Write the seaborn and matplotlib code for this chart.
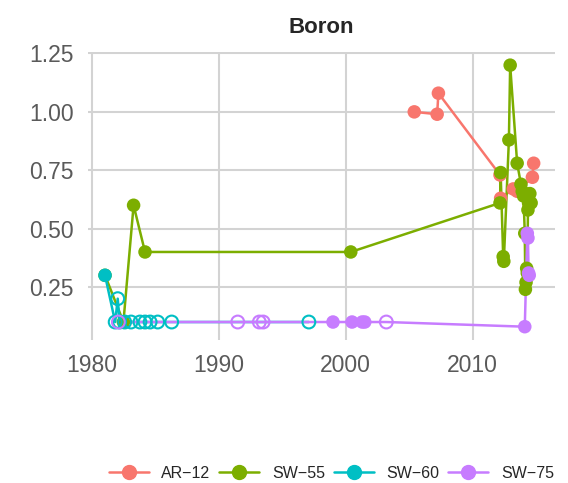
import pandas as pd
import numpy as np
import matplotlib
matplotlib.use("Agg")
import matplotlib.pyplot as plt
from matplotlib.lines import Line2D
import seaborn as sns

# boron readings per site: year, value, detected (False = drawn as open circle)
ar12_year = [2005.4, 2007.2, 2007.3, 2012.15, 2012.2, 2013.2, 2013.5, 2014.7, 2014.8]
ar12_val = [1.00, 0.99, 1.08, 0.73, 0.63, 0.67, 0.66, 0.72, 0.78]
ar12_det = [True] * 9

sw55_year = [1981.05, 1982.5, 1983.3, 1984.2, 2000.4, 2012.15, 2012.2, 2012.4, 2012.45,
             2012.85, 2012.95, 2013.5, 2013.8, 2013.9, 2014.0, 2014.1, 2014.15, 2014.2,
             2014.25, 2014.3, 2014.35, 2014.4, 2014.5, 2014.6]
sw55_val = [0.30, 0.10, 0.60, 0.40, 0.40, 0.61, 0.74, 0.38, 0.36,
            0.88, 1.20, 0.78, 0.69, 0.66, 0.64, 0.48, 0.24, 0.27,
            0.33, 0.31, 0.58, 0.61, 0.65, 0.61]
sw55_det = [True] * 24

sw60_year = [1981.05, 1981.85, 1982.05, 1982.2, 1982.6, 1983.1, 1983.8, 1984.2, 1984.6,
             1985.2, 1986.3, 1997.1]
sw60_val = [0.30, 0.10, 0.20, 0.10, 0.10, 0.10, 0.10, 0.10, 0.10, 0.10, 0.10, 0.10]
sw60_det = [True] + [False] * 11

sw75_year = [1982.1, 1991.5, 1993.2, 1993.5, 1999.0, 2000.5, 2001.3, 2001.5, 2003.2,
             2014.1, 2014.3, 2014.35, 2014.4, 2014.45]
sw75_val = [0.10, 0.10, 0.10, 0.10, 0.10, 0.10, 0.10, 0.10, 0.10,
            0.08, 0.48, 0.46, 0.31, 0.30]
sw75_det = [False, False, False, False, True, True, True, True, False,
            True, True, True, True, True]

sites = ["AR−12", "SW−55", "SW−60", "SW−75"]
colors = ["#F8766D", "#7CAE00", "#00BFC4", "#C77CFF"]

frames = []
for name, yr, v, d in zip(sites,
                          [ar12_year, sw55_year, sw60_year, sw75_year],
                          [ar12_val, sw55_val, sw60_val, sw75_val],
                          [ar12_det, sw55_det, sw60_det, sw75_det]):
    frames.append(pd.DataFrame({"year": yr, "value": v, "detected": d, "site": name}))
df = pd.concat(frames, ignore_index=True)
pal = dict(zip(sites, colors))

sns.set_style("white")
plt.rcParams["font.family"] = ["Liberation Sans", "DejaVu Sans"]

fig = plt.figure(figsize=(5.68, 4.83), dpi=100)
ax = fig.add_axes([88 / 568, 1 - 340 / 483, (555 - 88) / 568, (340 - 52) / 483])

sns.lineplot(data=df, x="year", y="value", hue="site", palette=pal, estimator=None,
             sort=True, linewidth=1.8, legend=False, ax=ax, zorder=2)

det = df[df["detected"]]
sns.scatterplot(data=det, x="year", y="value", hue="site", palette=pal, s=95,
                edgecolor="none", legend=False, ax=ax, zorder=3)

# below detection limit -> hollow circles
for name in sites:
    sub = df[(df["site"] == name) & (~df["detected"])]
    if len(sub):
        ax.scatter(sub["year"], sub["value"], s=85, facecolors="none",
                   edgecolors=pal[name], linewidths=1.5, zorder=3)

ax.set_xlim(1979.71, 2016.48)
ax.set_ylim(0.023, 1.2564)
ax.set_xticks([1980, 1990, 2000, 2010])
ax.set_yticks([0.25, 0.5, 0.75, 1.0, 1.25])
ax.set_yticklabels(["0.25", "0.50", "0.75", "1.00", "1.25"])
ax.grid(True, color="#D3D3D3", linewidth=1.5)
ax.set_axisbelow(True)
for s in ax.spines.values():
    s.set_visible(False)
ax.tick_params(axis="both", direction="out", length=6, width=1.3, color="#555555",
               labelsize=16.5, labelcolor="#5A5A5A", pad=4)
ax.set_xlabel("")
ax.set_ylabel("")
ax.set_title("Boron", fontsize=16, fontweight="bold", pad=14)

handles = [Line2D([], [], color=c, marker="o", markersize=10, linewidth=1.8)
           for c in colors]
fig.legend(handles, sites, loc="center right", bbox_to_anchor=(554 / 568, 1 - 473 / 483),
           ncol=4, frameon=False, fontsize=11.5, handlelength=2.5, handletextpad=0.8,
           columnspacing=0.55, borderpad=0, borderaxespad=0)

fig.savefig("out.png", dpi=100)
